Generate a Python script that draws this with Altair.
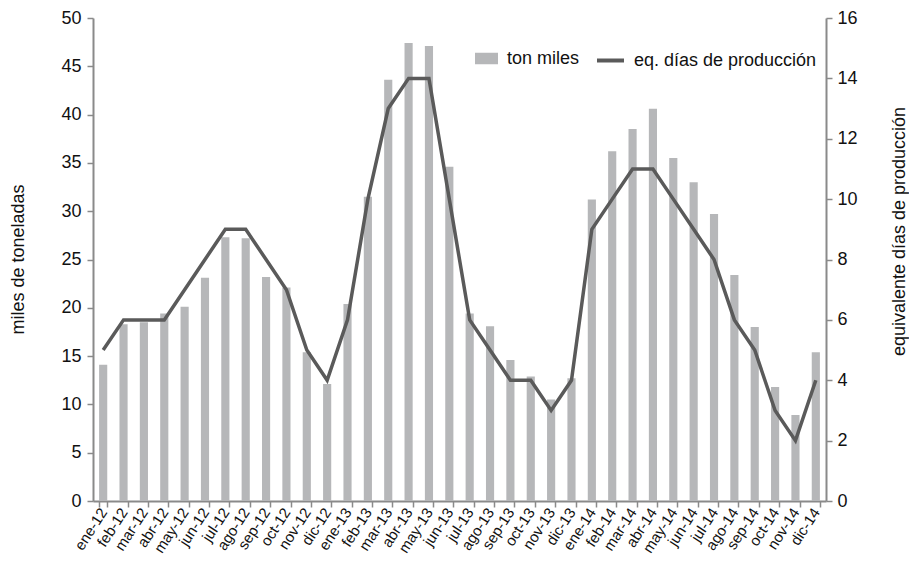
import altair as alt
import pandas as pd

months = ["ene-12", "feb-12", "mar-12", "abr-12", "may-12", "jun-12", "jul-12", "ago-12",
          "sep-12", "oct-12", "nov-12", "dic-12",
          "ene-13", "feb-13", "mar-13", "abr-13", "may-13", "jun-13", "jul-13", "ago-13",
          "sep-13", "oct-13", "nov-13", "dic-13",
          "ene-14", "feb-14", "mar-14", "abr-14", "may-14", "jun-14", "jul-14", "ago-14",
          "sep-14", "oct-14", "nov-14", "dic-14"]

ton_miles = [14.1, 18.3, 18.5, 19.4, 20.1, 23.1, 27.3, 27.2, 23.2, 22.1, 15.4, 12.1,
             20.4, 31.5, 43.6, 47.4, 47.1, 34.6, 19.4, 18.1, 14.6, 12.9, 10.5, 12.7,
             31.2, 36.2, 38.5, 40.6, 35.5, 33.0, 29.7, 23.4, 18.0, 11.8, 8.9, 15.4]

dias_produccion = [5, 6, 6, 6, 7, 8, 9, 9, 8, 7, 5, 4,
                   6, 10, 13, 14, 14, 10, 6, 5, 4, 4, 3, 4,
                   9, 10, 11, 11, 10, 9, 8, 6, 5, 3, 2, 4]

left_ticks = [0, 5, 10, 15, 20, 25, 30, 35, 40, 45, 50]
right_ticks = [0, 2, 4, 6, 8, 10, 12, 14, 16]

df = pd.DataFrame({
    "mes": months,
    "ton": ton_miles,
    "dias": dias_produccion,
    "s1": "ton miles",
    "s2": "eq. días de producción",
})

FONT = "Liberation Sans"
BAR_COLOR = "#b6b7b9"
LINE_COLOR = "#5a5a5a"
AXIS_COLOR = "#8a8a8a"
TEXT_COLOR = "#111111"

x_enc = alt.X(
    "mes:N",
    sort=months,
    scale=alt.Scale(paddingInner=0.6, paddingOuter=0.3),
    axis=alt.Axis(title=None, labelAngle=-57, labelFontSize=15, tickBand="extent",
                  labelPadding=2),
)

bars = alt.Chart(df).mark_bar(color=BAR_COLOR).encode(
    x=x_enc,
    y=alt.Y("ton:Q",
            scale=alt.Scale(domain=[0, 50], nice=False),
            axis=alt.Axis(values=left_ticks, title="miles de toneladas", orient="left",
                          labelPadding=6,
                          titleAngle=-90, titleX=-75, titleY=241, titleAlign="center",
                          titleBaseline="middle")),
    color=alt.Color("s1:N",
                    scale=alt.Scale(range=[BAR_COLOR]),
                    legend=alt.Legend(title=None, orient="none", legendX=382, legendY=29,
                                      symbolType="M-1,-0.5H1V0.5H-1Z", symbolSize=529,
                                      symbolStrokeWidth=0, labelOffset=9, padding=0,
                                      labelFontSize=18, labelLimit=400)),
)

line = alt.Chart(df).mark_line(strokeWidth=3.5, color=LINE_COLOR).encode(
    x=x_enc,
    y=alt.Y("dias:Q",
            scale=alt.Scale(domain=[0, 16], nice=False),
            axis=alt.Axis(values=right_ticks, title="equivalente días de producción",
                          orient="right", labelPadding=5,
                          titleAngle=-90, titleX=73, titleY=213,
                          titleAlign="center", titleBaseline="middle")),
    color=alt.Color("s2:N",
                    scale=alt.Scale(range=[LINE_COLOR]),
                    legend=alt.Legend(title=None, orient="none", legendX=502, legendY=27,
                                      symbolType="stroke", symbolSize=729,
                                      symbolStrokeWidth=4, labelOffset=8, padding=0,
                                      labelFontSize=18, labelLimit=400)),
)

chart = (
    alt.layer(bars, line)
    .resolve_scale(y="independent", color="independent")
    .properties(width=733, height=483, autosize=alt.AutoSizeParams(type="none"),
                padding={"left": 85, "top": 10, "right": 83, "bottom": 56})
    .configure_view(stroke=None)
    .configure_axis(
        grid=False,
        domainColor=AXIS_COLOR, domainWidth=2,
        tickColor=AXIS_COLOR, tickWidth=1.5, tickSize=6,
        labelFont=FONT, labelFontSize=18, labelColor=TEXT_COLOR,
        titleFont=FONT, titleFontSize=18, titleFontWeight="normal", titleColor=TEXT_COLOR,
    )
    .configure_legend(labelFont=FONT, labelColor=TEXT_COLOR)
)

chart.save("out.html", embed_options={"renderer": "svg", "actions": False})
